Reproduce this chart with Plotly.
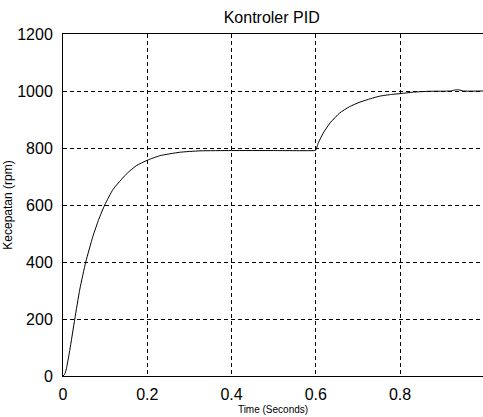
import plotly.graph_objects as go

# Step response
time_s = [0.000, 0.004, 0.008, 0.016, 0.028, 0.040, 0.054, 0.071, 0.085, 0.099, 0.119,
          0.150, 0.174, 0.200, 0.230, 0.277, 0.325, 0.400, 0.500, 0.598, 0.600, 0.606,
          0.618, 0.634, 0.657, 0.680, 0.705, 0.730, 0.752, 0.780, 0.802, 0.832, 0.870,
          0.920, 0.932, 0.940, 0.950, 1.000]
speed_rpm = [0, 6, 25, 90, 200, 305, 400, 490, 550, 600, 655,
             708, 738, 757, 773, 785, 790, 791, 791, 791, 792, 818,
             853, 888, 923, 945, 961, 973, 982, 988, 991, 996, 999,
             1000, 1004, 1004, 1000, 1000]

x_ticks = [0, 0.2, 0.4, 0.6, 0.8, 1]
x_tick_labels = ["0", "0.2", "0.4", "0.6", "0.8", "1"]
y_ticks = [0, 200, 400, 600, 800, 1000, 1200]
y_tick_labels = ["0", "200", "400", "600", "800", "1000", "1200"]

title_text = "Kontroler PID"
x_title = "Time (Seconds)"
y_title = "Kecepatan (rpm)"

fig = go.Figure()
fig.add_trace(go.Scatter(x=time_s, y=speed_rpm, mode="lines",
                         line=dict(color="black", width=1, shape="spline", smoothing=0.5),
                         hoverinfo="skip", showlegend=False))

font_family = "Liberation Sans, Arial, sans-serif"

fig.update_layout(
    width=483, height=417,
    margin=dict(l=63, r=0, t=34, b=41, pad=0, autoexpand=False),
    paper_bgcolor="white", plot_bgcolor="white",
    font=dict(family=font_family, color="black", size=16),
    title=dict(text=title_text, x=0.5625, xanchor="center", y=1 - 17 / 417, yanchor="middle",
               font=dict(size=16, color="black")),
    showlegend=False,
)
fig.update_xaxes(
    range=[0, 0.997], tickvals=x_ticks, ticktext=x_tick_labels,
    showline=True, linecolor="black", linewidth=1, mirror=True,
    showgrid=True, gridcolor="black", gridwidth=1, griddash="4px,3px",
    zeroline=False, ticks="", ticklabelstandoff=4, automargin=False,
    tickfont=dict(size=16),
    title=dict(text=x_title, font=dict(size=10), standoff=3),
)
fig.update_yaxes(
    range=[0, 1200], tickvals=y_ticks, ticktext=y_tick_labels,
    showline=True, linecolor="black", linewidth=1, mirror=True,
    showgrid=True, gridcolor="black", gridwidth=1, griddash="4px,3px",
    zeroline=False, ticks="", ticklabelstandoff=6, automargin=False,
    tickfont=dict(size=16),
    title=dict(text=y_title, font=dict(size=12), standoff=2),
)

fig.write_html("out.html", config={"displayModeBar": False},
               post_script="document.body.style.margin='0';document.body.style.overflow='hidden';")
